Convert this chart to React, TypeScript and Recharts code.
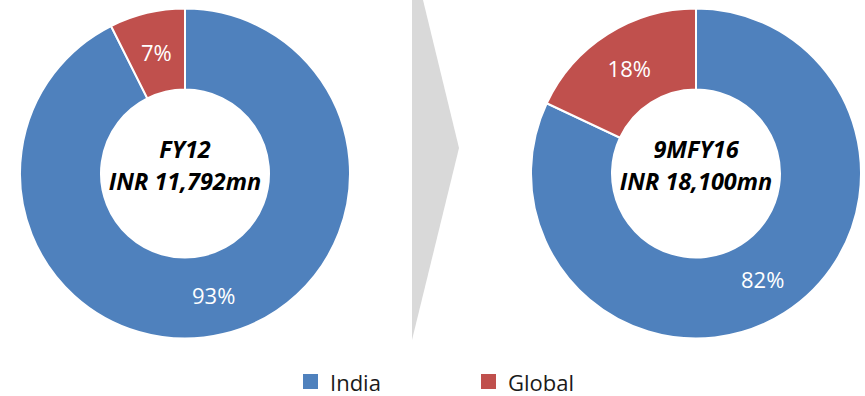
import React from "react";
import { PieChart, Pie, Cell, Legend } from "recharts";

const categories = ["India", "Global"];
const fy12Share = [92.6, 7.4];
const fy16Share = [82, 18];
const periodLabels = ["FY12", "9MFY16"];
const totalLabels = ["INR 11,792mn", "INR 18,100mn"];
const colors = ["#4F81BD", "#C0504D"];

const FONT = "'Open Sans', 'Noto Sans', sans-serif";

const fy12Data = categories.map((name, i) => ({ name, value: fy12Share[i] }));
const fy16Data = categories.map((name, i) => ({ name, value: fy16Share[i] }));

const PIE_CX = [185, 696];
const PIE_CY = 173.5;

const RAD = Math.PI / 180;

const renderPct = (props: any) => {
  const { cx, cy, midAngle, innerRadius, outerRadius, percent } = props;
  const r = (innerRadius + outerRadius) / 2;
  const x = cx + r * Math.cos(-midAngle * RAD);
  const y = cy + r * Math.sin(-midAngle * RAD);
  return (
    <text
      x={x}
      y={y}
      fill="#ffffff"
      textAnchor="middle"
      dominantBaseline="central"
      fontFamily={FONT}
      fontSize={22}
    >
      {`${Math.round(percent * 100)}%`}
    </text>
  );
};

const CenterText = ({ idx }: { idx: number }) => (
  <text
    textAnchor="middle"
    fontFamily={FONT}
    fontSize={23.5}
    fontWeight="bold"
    fontStyle="italic"
    fill="#000"
  >
    <tspan x={PIE_CX[idx]} y={PIE_CY - 16}>{periodLabels[idx]}</tspan>
    <tspan x={PIE_CX[idx]} y={PIE_CY + 16.5}>{totalLabels[idx]}</tspan>
  </text>
);

const LegendContent = () => (
  <svg width={865} height={36}>
    {categories.map((c, i) => {
      const x0 = i === 0 ? 303 : 481;
      return (
        <g key={c}>
          <rect x={x0} y={14} width={15} height={15} fill={colors[i]} />
          <text x={x0 + 27} y={31} fontFamily={FONT} fontSize={22} fill="#1a1a1a">
            {c}
          </text>
        </g>
      );
    })}
  </svg>
);

export default function App() {
  return (
    <div style={{ position: "absolute", left: 0, top: 0, width: 865, height: 396, background: "#fff" }}>
      <PieChart width={865} height={396} margin={{ top: 0, right: 0, bottom: 0, left: 0 }}>
        <polygon points="412,0 423,0 459,148 412,340" fill="#D9D9D9" />
        <Pie
          data={fy12Data}
          dataKey="value"
          nameKey="name"
          cx={PIE_CX[0]}
          cy={PIE_CY}
          innerRadius={84}
          outerRadius={165}
          startAngle={90}
          endAngle={-270}
          stroke="#ffffff"
          strokeWidth={2}
          label={renderPct}
          labelLine={false}
          isAnimationActive={false}
        >
          {fy12Data.map((d, i) => (
            <Cell key={d.name} fill={colors[i]} />
          ))}
        </Pie>
        <Pie
          data={fy16Data}
          dataKey="value"
          nameKey="name"
          cx={PIE_CX[1]}
          cy={PIE_CY}
          innerRadius={84}
          outerRadius={165}
          startAngle={90}
          endAngle={-270}
          stroke="#ffffff"
          strokeWidth={2}
          label={renderPct}
          labelLine={false}
          isAnimationActive={false}
        >
          {fy16Data.map((d, i) => (
            <Cell key={d.name} fill={colors[i]} />
          ))}
        </Pie>
        <CenterText idx={0} />
        <CenterText idx={1} />
        <Legend
          content={LegendContent}
          wrapperStyle={{ position: "absolute", left: 0, top: 360, width: 865, height: 36 }}
        />
      </PieChart>
    </div>
  );
}
